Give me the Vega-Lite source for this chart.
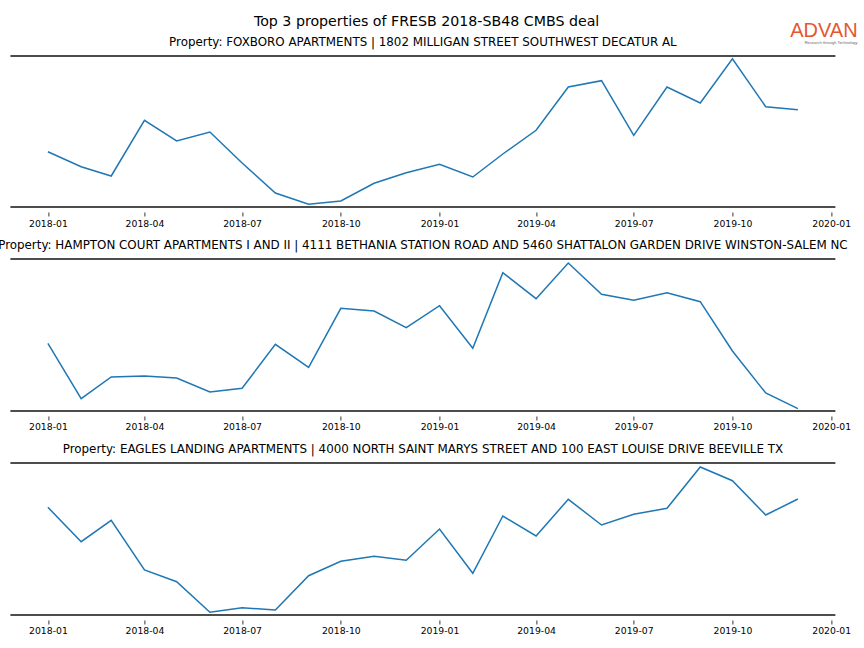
{
  "$schema": "https://vega.github.io/schema/vega-lite/v6.json",
  "background": "white",
  "padding": {"left": -2.6, "top": 14, "right": 0, "bottom": 0},
  "config": {
    "view": {"stroke": null},
    "font": "DejaVu Sans",
    "title": {"font": "DejaVu Sans", "fontWeight": "normal", "color": "#000000"},
    "axisX": {
      "format": "%Y-%m",
      "tickCount": {"interval": "month", "step": 3},
      "domain": false,
      "grid": false,
      "ticks": true,
      "tickSize": 4,
      "tickColor": "#000000",
      "tickWidth": 0.8,
      "offset": 5,
      "labelFont": "DejaVu Sans",
      "labelFontSize": 9.3,
      "labelColor": "#000000",
      "labelPadding": 3,
      "labelOverlap": false,
      "labelFlush": false,
      "title": null
    }
  },
  "datasets": {
    "visits": [
      {"property": "FOXBORO APARTMENTS | 1802 MILLIGAN STREET SOUTHWEST DECATUR AL", "date": "2018-01-01", "value": 55.3},
      {"property": "FOXBORO APARTMENTS | 1802 MILLIGAN STREET SOUTHWEST DECATUR AL", "date": "2018-02-01", "value": 40.3},
      {"property": "FOXBORO APARTMENTS | 1802 MILLIGAN STREET SOUTHWEST DECATUR AL", "date": "2018-03-01", "value": 31.0},
      {"property": "FOXBORO APARTMENTS | 1802 MILLIGAN STREET SOUTHWEST DECATUR AL", "date": "2018-04-01", "value": 86.7},
      {"property": "FOXBORO APARTMENTS | 1802 MILLIGAN STREET SOUTHWEST DECATUR AL", "date": "2018-05-01", "value": 66.0},
      {"property": "FOXBORO APARTMENTS | 1802 MILLIGAN STREET SOUTHWEST DECATUR AL", "date": "2018-06-01", "value": 75.0},
      {"property": "FOXBORO APARTMENTS | 1802 MILLIGAN STREET SOUTHWEST DECATUR AL", "date": "2018-07-01", "value": 44.0},
      {"property": "FOXBORO APARTMENTS | 1802 MILLIGAN STREET SOUTHWEST DECATUR AL", "date": "2018-08-01", "value": 14.0},
      {"property": "FOXBORO APARTMENTS | 1802 MILLIGAN STREET SOUTHWEST DECATUR AL", "date": "2018-09-01", "value": 2.7},
      {"property": "FOXBORO APARTMENTS | 1802 MILLIGAN STREET SOUTHWEST DECATUR AL", "date": "2018-10-01", "value": 6.0},
      {"property": "FOXBORO APARTMENTS | 1802 MILLIGAN STREET SOUTHWEST DECATUR AL", "date": "2018-11-01", "value": 23.7},
      {"property": "FOXBORO APARTMENTS | 1802 MILLIGAN STREET SOUTHWEST DECATUR AL", "date": "2018-12-01", "value": 34.3},
      {"property": "FOXBORO APARTMENTS | 1802 MILLIGAN STREET SOUTHWEST DECATUR AL", "date": "2019-01-01", "value": 42.7},
      {"property": "FOXBORO APARTMENTS | 1802 MILLIGAN STREET SOUTHWEST DECATUR AL", "date": "2019-02-01", "value": 30.0},
      {"property": "FOXBORO APARTMENTS | 1802 MILLIGAN STREET SOUTHWEST DECATUR AL", "date": "2019-03-01", "value": 53.0},
      {"property": "FOXBORO APARTMENTS | 1802 MILLIGAN STREET SOUTHWEST DECATUR AL", "date": "2019-04-01", "value": 76.7},
      {"property": "FOXBORO APARTMENTS | 1802 MILLIGAN STREET SOUTHWEST DECATUR AL", "date": "2019-05-01", "value": 120.0},
      {"property": "FOXBORO APARTMENTS | 1802 MILLIGAN STREET SOUTHWEST DECATUR AL", "date": "2019-06-01", "value": 126.3},
      {"property": "FOXBORO APARTMENTS | 1802 MILLIGAN STREET SOUTHWEST DECATUR AL", "date": "2019-07-01", "value": 71.7},
      {"property": "FOXBORO APARTMENTS | 1802 MILLIGAN STREET SOUTHWEST DECATUR AL", "date": "2019-08-01", "value": 120.0},
      {"property": "FOXBORO APARTMENTS | 1802 MILLIGAN STREET SOUTHWEST DECATUR AL", "date": "2019-09-01", "value": 104.0},
      {"property": "FOXBORO APARTMENTS | 1802 MILLIGAN STREET SOUTHWEST DECATUR AL", "date": "2019-10-01", "value": 148.3},
      {"property": "FOXBORO APARTMENTS | 1802 MILLIGAN STREET SOUTHWEST DECATUR AL", "date": "2019-11-01", "value": 100.3},
      {"property": "FOXBORO APARTMENTS | 1802 MILLIGAN STREET SOUTHWEST DECATUR AL", "date": "2019-12-01", "value": 97.3},

      {"property": "HAMPTON COURT APARTMENTS I AND II | 4111 BETHANIA STATION ROAD AND 5460 SHATTALON GARDEN DRIVE WINSTON-SALEM NC", "date": "2018-01-01", "value": 67.7},
      {"property": "HAMPTON COURT APARTMENTS I AND II | 4111 BETHANIA STATION ROAD AND 5460 SHATTALON GARDEN DRIVE WINSTON-SALEM NC", "date": "2018-02-01", "value": 12.3},
      {"property": "HAMPTON COURT APARTMENTS I AND II | 4111 BETHANIA STATION ROAD AND 5460 SHATTALON GARDEN DRIVE WINSTON-SALEM NC", "date": "2018-03-01", "value": 34.0},
      {"property": "HAMPTON COURT APARTMENTS I AND II | 4111 BETHANIA STATION ROAD AND 5460 SHATTALON GARDEN DRIVE WINSTON-SALEM NC", "date": "2018-04-01", "value": 35.0},
      {"property": "HAMPTON COURT APARTMENTS I AND II | 4111 BETHANIA STATION ROAD AND 5460 SHATTALON GARDEN DRIVE WINSTON-SALEM NC", "date": "2018-05-01", "value": 33.0},
      {"property": "HAMPTON COURT APARTMENTS I AND II | 4111 BETHANIA STATION ROAD AND 5460 SHATTALON GARDEN DRIVE WINSTON-SALEM NC", "date": "2018-06-01", "value": 19.0},
      {"property": "HAMPTON COURT APARTMENTS I AND II | 4111 BETHANIA STATION ROAD AND 5460 SHATTALON GARDEN DRIVE WINSTON-SALEM NC", "date": "2018-07-01", "value": 22.7},
      {"property": "HAMPTON COURT APARTMENTS I AND II | 4111 BETHANIA STATION ROAD AND 5460 SHATTALON GARDEN DRIVE WINSTON-SALEM NC", "date": "2018-08-01", "value": 66.7},
      {"property": "HAMPTON COURT APARTMENTS I AND II | 4111 BETHANIA STATION ROAD AND 5460 SHATTALON GARDEN DRIVE WINSTON-SALEM NC", "date": "2018-09-01", "value": 43.7},
      {"property": "HAMPTON COURT APARTMENTS I AND II | 4111 BETHANIA STATION ROAD AND 5460 SHATTALON GARDEN DRIVE WINSTON-SALEM NC", "date": "2018-10-01", "value": 102.7},
      {"property": "HAMPTON COURT APARTMENTS I AND II | 4111 BETHANIA STATION ROAD AND 5460 SHATTALON GARDEN DRIVE WINSTON-SALEM NC", "date": "2018-11-01", "value": 100.0},
      {"property": "HAMPTON COURT APARTMENTS I AND II | 4111 BETHANIA STATION ROAD AND 5460 SHATTALON GARDEN DRIVE WINSTON-SALEM NC", "date": "2018-12-01", "value": 83.3},
      {"property": "HAMPTON COURT APARTMENTS I AND II | 4111 BETHANIA STATION ROAD AND 5460 SHATTALON GARDEN DRIVE WINSTON-SALEM NC", "date": "2019-01-01", "value": 105.3},
      {"property": "HAMPTON COURT APARTMENTS I AND II | 4111 BETHANIA STATION ROAD AND 5460 SHATTALON GARDEN DRIVE WINSTON-SALEM NC", "date": "2019-02-01", "value": 62.7},
      {"property": "HAMPTON COURT APARTMENTS I AND II | 4111 BETHANIA STATION ROAD AND 5460 SHATTALON GARDEN DRIVE WINSTON-SALEM NC", "date": "2019-03-01", "value": 138.3},
      {"property": "HAMPTON COURT APARTMENTS I AND II | 4111 BETHANIA STATION ROAD AND 5460 SHATTALON GARDEN DRIVE WINSTON-SALEM NC", "date": "2019-04-01", "value": 112.3},
      {"property": "HAMPTON COURT APARTMENTS I AND II | 4111 BETHANIA STATION ROAD AND 5460 SHATTALON GARDEN DRIVE WINSTON-SALEM NC", "date": "2019-05-01", "value": 148.0},
      {"property": "HAMPTON COURT APARTMENTS I AND II | 4111 BETHANIA STATION ROAD AND 5460 SHATTALON GARDEN DRIVE WINSTON-SALEM NC", "date": "2019-06-01", "value": 116.7},
      {"property": "HAMPTON COURT APARTMENTS I AND II | 4111 BETHANIA STATION ROAD AND 5460 SHATTALON GARDEN DRIVE WINSTON-SALEM NC", "date": "2019-07-01", "value": 110.7},
      {"property": "HAMPTON COURT APARTMENTS I AND II | 4111 BETHANIA STATION ROAD AND 5460 SHATTALON GARDEN DRIVE WINSTON-SALEM NC", "date": "2019-08-01", "value": 118.3},
      {"property": "HAMPTON COURT APARTMENTS I AND II | 4111 BETHANIA STATION ROAD AND 5460 SHATTALON GARDEN DRIVE WINSTON-SALEM NC", "date": "2019-09-01", "value": 109.3},
      {"property": "HAMPTON COURT APARTMENTS I AND II | 4111 BETHANIA STATION ROAD AND 5460 SHATTALON GARDEN DRIVE WINSTON-SALEM NC", "date": "2019-10-01", "value": 60.0},
      {"property": "HAMPTON COURT APARTMENTS I AND II | 4111 BETHANIA STATION ROAD AND 5460 SHATTALON GARDEN DRIVE WINSTON-SALEM NC", "date": "2019-11-01", "value": 18.0},
      {"property": "HAMPTON COURT APARTMENTS I AND II | 4111 BETHANIA STATION ROAD AND 5460 SHATTALON GARDEN DRIVE WINSTON-SALEM NC", "date": "2019-12-01", "value": 2.3},

      {"property": "EAGLES LANDING APARTMENTS | 4000 NORTH SAINT MARYS STREET AND 100 EAST LOUISE DRIVE BEEVILLE TX", "date": "2018-01-01", "value": 107.7},
      {"property": "EAGLES LANDING APARTMENTS | 4000 NORTH SAINT MARYS STREET AND 100 EAST LOUISE DRIVE BEEVILLE TX", "date": "2018-02-01", "value": 73.3},
      {"property": "EAGLES LANDING APARTMENTS | 4000 NORTH SAINT MARYS STREET AND 100 EAST LOUISE DRIVE BEEVILLE TX", "date": "2018-03-01", "value": 94.7},
      {"property": "EAGLES LANDING APARTMENTS | 4000 NORTH SAINT MARYS STREET AND 100 EAST LOUISE DRIVE BEEVILLE TX", "date": "2018-04-01", "value": 45.0},
      {"property": "EAGLES LANDING APARTMENTS | 4000 NORTH SAINT MARYS STREET AND 100 EAST LOUISE DRIVE BEEVILLE TX", "date": "2018-05-01", "value": 33.3},
      {"property": "EAGLES LANDING APARTMENTS | 4000 NORTH SAINT MARYS STREET AND 100 EAST LOUISE DRIVE BEEVILLE TX", "date": "2018-06-01", "value": 2.7},
      {"property": "EAGLES LANDING APARTMENTS | 4000 NORTH SAINT MARYS STREET AND 100 EAST LOUISE DRIVE BEEVILLE TX", "date": "2018-07-01", "value": 7.3},
      {"property": "EAGLES LANDING APARTMENTS | 4000 NORTH SAINT MARYS STREET AND 100 EAST LOUISE DRIVE BEEVILLE TX", "date": "2018-08-01", "value": 5.0},
      {"property": "EAGLES LANDING APARTMENTS | 4000 NORTH SAINT MARYS STREET AND 100 EAST LOUISE DRIVE BEEVILLE TX", "date": "2018-09-01", "value": 39.3},
      {"property": "EAGLES LANDING APARTMENTS | 4000 NORTH SAINT MARYS STREET AND 100 EAST LOUISE DRIVE BEEVILLE TX", "date": "2018-10-01", "value": 53.7},
      {"property": "EAGLES LANDING APARTMENTS | 4000 NORTH SAINT MARYS STREET AND 100 EAST LOUISE DRIVE BEEVILLE TX", "date": "2018-11-01", "value": 58.7},
      {"property": "EAGLES LANDING APARTMENTS | 4000 NORTH SAINT MARYS STREET AND 100 EAST LOUISE DRIVE BEEVILLE TX", "date": "2018-12-01", "value": 54.7},
      {"property": "EAGLES LANDING APARTMENTS | 4000 NORTH SAINT MARYS STREET AND 100 EAST LOUISE DRIVE BEEVILLE TX", "date": "2019-01-01", "value": 86.0},
      {"property": "EAGLES LANDING APARTMENTS | 4000 NORTH SAINT MARYS STREET AND 100 EAST LOUISE DRIVE BEEVILLE TX", "date": "2019-02-01", "value": 41.7},
      {"property": "EAGLES LANDING APARTMENTS | 4000 NORTH SAINT MARYS STREET AND 100 EAST LOUISE DRIVE BEEVILLE TX", "date": "2019-03-01", "value": 99.0},
      {"property": "EAGLES LANDING APARTMENTS | 4000 NORTH SAINT MARYS STREET AND 100 EAST LOUISE DRIVE BEEVILLE TX", "date": "2019-04-01", "value": 79.0},
      {"property": "EAGLES LANDING APARTMENTS | 4000 NORTH SAINT MARYS STREET AND 100 EAST LOUISE DRIVE BEEVILLE TX", "date": "2019-05-01", "value": 115.7},
      {"property": "EAGLES LANDING APARTMENTS | 4000 NORTH SAINT MARYS STREET AND 100 EAST LOUISE DRIVE BEEVILLE TX", "date": "2019-06-01", "value": 90.0},
      {"property": "EAGLES LANDING APARTMENTS | 4000 NORTH SAINT MARYS STREET AND 100 EAST LOUISE DRIVE BEEVILLE TX", "date": "2019-07-01", "value": 100.7},
      {"property": "EAGLES LANDING APARTMENTS | 4000 NORTH SAINT MARYS STREET AND 100 EAST LOUISE DRIVE BEEVILLE TX", "date": "2019-08-01", "value": 106.7},
      {"property": "EAGLES LANDING APARTMENTS | 4000 NORTH SAINT MARYS STREET AND 100 EAST LOUISE DRIVE BEEVILLE TX", "date": "2019-09-01", "value": 148.0},
      {"property": "EAGLES LANDING APARTMENTS | 4000 NORTH SAINT MARYS STREET AND 100 EAST LOUISE DRIVE BEEVILLE TX", "date": "2019-10-01", "value": 134.3},
      {"property": "EAGLES LANDING APARTMENTS | 4000 NORTH SAINT MARYS STREET AND 100 EAST LOUISE DRIVE BEEVILLE TX", "date": "2019-11-01", "value": 100.0},
      {"property": "EAGLES LANDING APARTMENTS | 4000 NORTH SAINT MARYS STREET AND 100 EAST LOUISE DRIVE BEEVILLE TX", "date": "2019-12-01", "value": 116.0}
    ]
  },
  "title": {
    "text": "ADVAN",
    "subtitle": "Research through Technology",
    "anchor": "end",
    "font": "Liberation Sans",
    "fontSize": 20,
    "fontWeight": "normal",
    "color": "#E4572E",
    "subtitleFont": "Liberation Sans",
    "subtitleFontSize": 4,
    "subtitleColor": "#666666",
    "subtitlePadding": 0,
    "offset": -30,
    "dx": 7
  },
  "vconcat": [
    {
      "title": {"text": "Top 3 properties of FRESB 2018-SB48 CMBS deal", "fontSize": 14.2, "offset": 7, "anchor": "middle", "dx": 2.5},
      "spacing": 10,
      "vconcat": [
        {
          "title": {"text": "Property: FOXBORO APARTMENTS | 1802 MILLIGAN STREET SOUTHWEST DECATUR AL", "fontSize": 11.9, "offset": 6, "anchor": "middle", "frame": "group"},
          "width": 825,
          "height": 151,
          "data": {"name": "visits"},
          "transform": [{"filter": {"field": "property", "equal": "FOXBORO APARTMENTS | 1802 MILLIGAN STREET SOUTHWEST DECATUR AL"}}],
          "layer": [
            {
              "mark": {"type": "line", "color": "#1f77b4", "strokeWidth": 1.5},
              "encoding": {
                "x": {"field": "date", "type": "temporal", "scale": {"type": "utc", "domain": [{"year": 2017, "month": 11, "date": 27, "hours": 1, "minutes": 12, "utc": true}, {"year": 2020, "month": 1, "date": 4, "hours": 22, "minutes": 48, "utc": true}]}},
                "y": {"field": "value", "type": "quantitative", "scale": {"domain": [0, 151], "nice": false, "zero": false}, "axis": null}
              }
            },
            {"data": {"values": [{}]}, "mark": {"type": "rule", "color": "#4d4d4d", "strokeWidth": 2}, "encoding": {"y": {"datum": 151}}},
            {"data": {"values": [{}]}, "mark": {"type": "rule", "color": "#4d4d4d", "strokeWidth": 2}, "encoding": {"y": {"datum": 0}}}
          ]
        },
        {
          "title": {"text": "Property: HAMPTON COURT APARTMENTS I AND II | 4111 BETHANIA STATION ROAD AND 5460 SHATTALON GARDEN DRIVE WINSTON-SALEM NC", "fontSize": 11.9, "offset": 6, "anchor": "middle", "frame": "group"},
          "width": 825,
          "height": 152,
          "data": {"name": "visits"},
          "transform": [{"filter": {"field": "property", "equal": "HAMPTON COURT APARTMENTS I AND II | 4111 BETHANIA STATION ROAD AND 5460 SHATTALON GARDEN DRIVE WINSTON-SALEM NC"}}],
          "layer": [
            {
              "mark": {"type": "line", "color": "#1f77b4", "strokeWidth": 1.5},
              "encoding": {
                "x": {"field": "date", "type": "temporal", "scale": {"type": "utc", "domain": [{"year": 2017, "month": 11, "date": 27, "hours": 1, "minutes": 12, "utc": true}, {"year": 2020, "month": 1, "date": 4, "hours": 22, "minutes": 48, "utc": true}]}},
                "y": {"field": "value", "type": "quantitative", "scale": {"domain": [0, 152], "nice": false, "zero": false}, "axis": null}
              }
            },
            {"data": {"values": [{}]}, "mark": {"type": "rule", "color": "#4d4d4d", "strokeWidth": 2}, "encoding": {"y": {"datum": 152}}},
            {"data": {"values": [{}]}, "mark": {"type": "rule", "color": "#4d4d4d", "strokeWidth": 2}, "encoding": {"y": {"datum": 0}}}
          ]
        },
        {
          "title": {"text": "Property: EAGLES LANDING APARTMENTS | 4000 NORTH SAINT MARYS STREET AND 100 EAST LOUISE DRIVE BEEVILLE TX", "fontSize": 11.9, "offset": 6, "anchor": "middle", "frame": "group"},
          "width": 825,
          "height": 152,
          "data": {"name": "visits"},
          "transform": [{"filter": {"field": "property", "equal": "EAGLES LANDING APARTMENTS | 4000 NORTH SAINT MARYS STREET AND 100 EAST LOUISE DRIVE BEEVILLE TX"}}],
          "layer": [
            {
              "mark": {"type": "line", "color": "#1f77b4", "strokeWidth": 1.5},
              "encoding": {
                "x": {"field": "date", "type": "temporal", "scale": {"type": "utc", "domain": [{"year": 2017, "month": 11, "date": 27, "hours": 1, "minutes": 12, "utc": true}, {"year": 2020, "month": 1, "date": 4, "hours": 22, "minutes": 48, "utc": true}]}},
                "y": {"field": "value", "type": "quantitative", "scale": {"domain": [0, 152], "nice": false, "zero": false}, "axis": null}
              }
            },
            {"data": {"values": [{}]}, "mark": {"type": "rule", "color": "#4d4d4d", "strokeWidth": 2}, "encoding": {"y": {"datum": 152}}},
            {"data": {"values": [{}]}, "mark": {"type": "rule", "color": "#4d4d4d", "strokeWidth": 2}, "encoding": {"y": {"datum": 0}}}
          ]
        }
      ]
    }
  ]
}
